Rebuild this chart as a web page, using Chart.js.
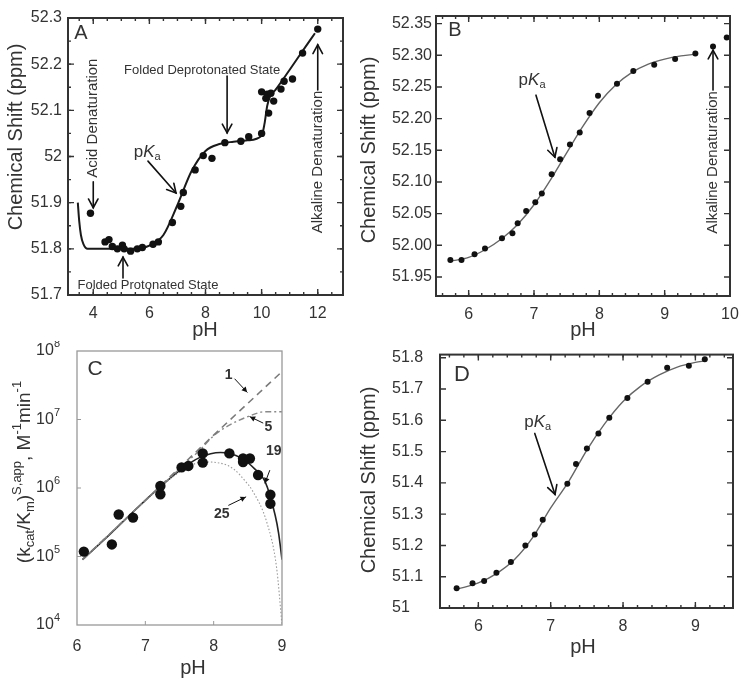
<!DOCTYPE html>
<html>
<head>
<meta charset="utf-8">
<script src="https://cdn.jsdelivr.net/npm/chart.js@4.4.1/dist/chart.umd.min.js"></script>
<style>
  html, body { margin: 0; padding: 0; background: #fff; }
  #fig { position: relative; width: 750px; height: 682px; }
  #fig canvas { position: absolute; }
</style>
</head>
<body>
<div id="fig">
  <canvas id="panelA" width="356" height="341" style="left:0;top:0"></canvas>
  <canvas id="panelB" width="394" height="341" style="left:356px;top:0"></canvas>
  <canvas id="panelC" width="356" height="341" style="left:0;top:341px"></canvas>
  <canvas id="panelD" width="394" height="341" style="left:356px;top:341px"></canvas>
</div>
<script>
// Panel A - chemical shift vs pH, with acid and alkaline denaturation
const aPhObs = [3.9, 4.42, 4.56, 4.68, 4.86, 5.04, 5.1, 5.33, 5.57, 5.75, 6.13, 6.32, 6.82, 7.12, 7.21, 7.63, 7.92, 8.23, 8.69, 9.26, 9.54, 10.0, 10.0, 10.15, 10.2, 10.25, 10.33, 10.43, 10.69, 10.8, 11.1, 11.46, 12.0];
const aShiftObs = [51.877, 51.815, 51.82, 51.805, 51.80, 51.808, 51.80, 51.795, 51.80, 51.803, 51.81, 51.815, 51.857, 51.892, 51.922, 51.971, 52.002, 51.996, 52.03, 52.033, 52.043, 52.05, 52.14, 52.126, 52.135, 52.094, 52.137, 52.12, 52.146, 52.163, 52.168, 52.224, 52.276];
const aPhFit = [3.45, 3.5, 3.56, 3.65, 3.8, 4.5, 5.0, 5.5, 6.0, 6.5, 7.0, 7.5, 8.0, 8.5, 9.0, 9.5, 10.0, 10.1, 10.2, 10.3, 10.5, 11.0, 11.5, 11.9];
const aShiftFit = [51.90, 51.86, 51.83, 51.81, 51.80, 51.80, 51.80, 51.80, 51.807, 51.83, 51.895, 51.968, 52.012, 52.027, 52.032, 52.035, 52.045, 52.07, 52.11, 52.13, 52.145, 52.188, 52.232, 52.267];
const aXTicks = [4, 6, 8, 10, 12];
const aXLabels = ['4', '6', '8', '10', '12'];
const aYTicks = [51.7, 51.8, 51.9, 52.0, 52.1, 52.2, 52.3];
const aYLabels = ['51.7', '51.8', '51.9', '52', '52.1', '52.2', '52.3'];

// Panel B
const bPhObs = [5.72, 5.89, 6.09, 6.25, 6.51, 6.67, 6.75, 6.88, 7.02, 7.12, 7.27, 7.40, 7.55, 7.70, 7.85, 7.98, 8.27, 8.52, 8.84, 9.16, 9.47, 9.74, 9.95];
const bShiftObs = [51.977, 51.977, 51.986, 51.995, 52.011, 52.019, 52.035, 52.054, 52.068, 52.082, 52.112, 52.136, 52.159, 52.178, 52.209, 52.236, 52.255, 52.275, 52.285, 52.294, 52.303, 52.314, 52.328];
const bPhFit = [5.72, 6.0, 6.25, 6.5, 6.75, 7.0, 7.25, 7.5, 7.75, 8.0, 8.25, 8.5, 8.75, 9.0, 9.25, 9.5];
const bShiftFit = [51.975, 51.981, 51.993, 52.010, 52.033, 52.064, 52.103, 52.146, 52.188, 52.225, 52.253, 52.273, 52.286, 52.294, 52.299, 52.302];
const bXTicks = [6, 7, 8, 9, 10];
const bXLabels = ['6', '7', '8', '9', '10'];
const bYTicks = [51.95, 52.00, 52.05, 52.10, 52.15, 52.20, 52.25, 52.30, 52.35];
const bYLabels = ['51.95', '52.00', '52.05', '52.10', '52.15', '52.20', '52.25', '52.30', '52.35'];

// Panel C - (kcat/Km) vs pH, log scale, model curves 1, 5, 19, 25
const cPhObs = [6.10, 6.51, 6.61, 6.82, 7.22, 7.22, 7.53, 7.63, 7.84, 7.84, 8.23, 8.43, 8.43, 8.53, 8.65, 8.83, 8.83];
const cRateObs = [1.18e5, 1.5e5, 4.1e5, 3.7e5, 8.1e5, 1.07e6, 2.0e6, 2.1e6, 2.35e6, 3.2e6, 3.2e6, 2.4e6, 2.7e6, 2.7e6, 1.55e6, 8.0e5, 5.9e5];
const cPhCurve1 = [6.08, 7.0, 8.0, 9.0];
const cRateCurve1 = [9e4, 6.6e5, 5.9e6, 5e7];
const cPhCurve5 = [6.08, 7.0, 7.5, 7.8, 8.0, 8.25, 8.5, 8.75, 9.0];
const cRateCurve5 = [9e4, 6.6e5, 1.9e6, 3.6e6, 5.8e6, 8.5e6, 1.1e7, 1.3e7, 1.3e7];
const cPhCurve19 = [6.08, 6.5, 7.0, 7.5, 7.8, 8.1, 8.4, 8.6, 8.75, 8.9, 8.95, 9.0];
const cRateCurve19 = [9e4, 2.2e5, 6.6e5, 1.8e6, 2.8e6, 3.3e6, 2.75e6, 1.9e6, 1.26e6, 4.0e5, 2.2e5, 9e4];
const cPhCurve25 = [6.08, 7.0, 7.5, 7.85, 8.1, 8.29, 8.48, 8.56, 8.78, 8.92, 9.0];
const cRateCurve25 = [9e4, 6.5e5, 1.7e6, 2.4e6, 2.3e6, 1.9e6, 1.2e6, 9.4e5, 3.1e5, 7e4, 1e4];
const cXTicks = [6, 7, 8, 9];
const cXLabels = ['6', '7', '8', '9'];
const cYTicks = [1e4, 1e5, 1e6, 1e7, 1e8];
const cYExps = ['4', '5', '6', '7', '8'];

// Panel D
const dPhObs = [5.70, 5.92, 6.08, 6.25, 6.45, 6.65, 6.78, 6.89, 7.23, 7.35, 7.50, 7.66, 7.81, 8.06, 8.34, 8.61, 8.91, 9.13];
const dShiftObs = [51.063, 51.079, 51.086, 51.113, 51.147, 51.200, 51.235, 51.282, 51.397, 51.46, 51.51, 51.558, 51.608, 51.671, 51.723, 51.768, 51.774, 51.795];
const dPhFit = [5.7, 6.0, 6.25, 6.5, 6.75, 7.0, 7.25, 7.5, 7.75, 8.0, 8.25, 8.5, 8.75, 9.0, 9.13];
const dShiftFit = [51.06, 51.08, 51.11, 51.155, 51.225, 51.32, 51.405, 51.505, 51.59, 51.66, 51.71, 51.745, 51.77, 51.785, 51.79];
const dXTicks = [6, 7, 8, 9];
const dXLabels = ['6', '7', '8', '9'];
const dYTicks = [51.0, 51.1, 51.2, 51.3, 51.4, 51.5, 51.6, 51.7, 51.8];
const dYLabels = ['51', '51.1', '51.2', '51.3', '51.4', '51.5', '51.6', '51.7', '51.8'];

const FONT = '"Liberation Sans", Arial, Helvetica, sans-serif';
const INK = '#333';

function pts(xs, ys) {
    return xs.map((x, i) => ({ x: x, y: ys[i] }));
}

// draws a sequence of text runs (sub/superscripts, italics) centred or aligned at cx,cy
function richText(ctx, runs, cx, cy, rot, align) {
    ctx.save();
    ctx.translate(cx, cy);
    if (rot) ctx.rotate(rot);
    ctx.textBaseline = 'middle';
    ctx.textAlign = 'left';
    const fontOf = r => (r.style || 'normal') + ' ' + (r.weight || 'normal') + ' ' + r.size + 'px ' + FONT;
    let total = 0;
    runs.forEach(r => { ctx.font = fontOf(r); r._w = ctx.measureText(r.t).width; total += r._w; });
    let x = align === 'right' ? -total : (align === 'left' ? 0 : -total / 2);
    runs.forEach(r => {
        ctx.font = fontOf(r);
        ctx.fillStyle = r.color || INK;
        ctx.fillText(r.t, x, r.dy || 0);
        x += r._w;
    });
    ctx.restore();
}

function arrow(ctx, x1, y1, x2, y2, head, width, filled) {
    const ang = Math.atan2(y2 - y1, x2 - x1);
    const spread = 0.5;
    ctx.save();
    ctx.strokeStyle = '#111';
    ctx.fillStyle = '#111';
    ctx.lineWidth = width;
    ctx.lineCap = 'round';
    ctx.beginPath();
    ctx.moveTo(x1, y1);
    ctx.lineTo(x2, y2);
    ctx.stroke();
    const hx1 = x2 - head * Math.cos(ang - spread), hy1 = y2 - head * Math.sin(ang - spread);
    const hx2 = x2 - head * Math.cos(ang + spread), hy2 = y2 - head * Math.sin(ang + spread);
    ctx.beginPath();
    ctx.moveTo(hx1, hy1);
    ctx.lineTo(x2, y2);
    ctx.lineTo(hx2, hy2);
    if (filled) { ctx.closePath(); ctx.fill(); } else { ctx.stroke(); }
    ctx.restore();
}

function drawFrame(chart, f) {
    const { ctx, chartArea: a, scales } = chart;
    const xs = scales.x, ys = scales.y;
    ctx.save();
    ctx.strokeStyle = f.color;
    ctx.lineWidth = f.width;
    ctx.strokeRect(a.left, a.top, a.right - a.left, a.bottom - a.top);
    ctx.lineWidth = f.tickWidth;
    const sides = f.sides;
    const tickX = (v, len) => {
        const p = xs.getPixelForValue(v);
        if (p < a.left + 2 || p > a.right - 2) return;
        ctx.beginPath();
        if (sides.includes('b')) { ctx.moveTo(p, a.bottom); ctx.lineTo(p, a.bottom - len); }
        if (sides.includes('t')) { ctx.moveTo(p, a.top); ctx.lineTo(p, a.top + len); }
        ctx.stroke();
    };
    const tickY = (v, len) => {
        const p = ys.getPixelForValue(v);
        if (p < a.top + 2 || p > a.bottom - 2) return;
        ctx.beginPath();
        if (sides.includes('l')) { ctx.moveTo(a.left, p); ctx.lineTo(a.left + len, p); }
        if (sides.includes('r')) { ctx.moveTo(a.right, p); ctx.lineTo(a.right - len, p); }
        ctx.stroke();
    };
    f.xMajor.forEach(v => tickX(v, f.majorLen));
    f.yMajor.forEach(v => tickY(v, f.majorLen));
    if (f.xMinorStep) {
        for (let v = Math.ceil(xs.min / f.xMinorStep) * f.xMinorStep; v <= xs.max; v += f.xMinorStep) tickX(v, f.minorLen);
    }
    if (f.yMinorStep) {
        for (let v = Math.ceil(ys.min / f.yMinorStep) * f.yMinorStep; v <= ys.max; v += f.yMinorStep) tickY(v, f.minorLen);
    }
    ctx.restore();
}

function drawNotes(chart, notes) {
    const { ctx, scales: { x, y } } = chart;
    const px = v => x.getPixelForValue(v);
    const py = v => y.getPixelForValue(v);
    notes.forEach(n => {
        if (n.type === 'text') {
            richText(ctx, [{ t: n.text, size: n.size, weight: n.weight }], px(n.x), py(n.y), n.rot || 0);
        } else if (n.type === 'pka') {
            richText(ctx, [{ t: 'p', size: 17 }, { t: 'K', size: 17, style: 'italic' }, { t: 'a', size: 11, dy: 5 }], px(n.x), py(n.y), 0);
        } else if (n.type === 'arrow') {
            arrow(ctx, px(n.x1), py(n.y1), px(n.x2), py(n.y2), n.head || 10, n.width || 1.6, n.filled);
        } else if (n.type === 'rich') {
            richText(ctx, n.runs, n.cx, n.cy, n.rot || 0, n.align);
        }
    });
}

function makePanel(id, cfg) {
    const deco = {
        id: 'deco_' + id,
        afterDraw(chart) {
            drawFrame(chart, cfg.frame);
            drawNotes(chart, cfg.notes);
        }
    };
    const tickFont = { family: FONT, size: 16 };
    return new Chart(document.getElementById(id), {
        type: 'scatter',
        data: { datasets: cfg.datasets },
        options: {
            responsive: false,
            animation: false,
            events: [],
            layout: { padding: cfg.padding },
            plugins: { legend: { display: false }, tooltip: { enabled: false } },
            scales: {
                x: {
                    type: 'linear',
                    min: cfg.xMin, max: cfg.xMax,
                    grid: { display: false, drawTicks: false },
                    border: { display: false },
                    afterBuildTicks: s => { s.ticks = cfg.xTicks.map(v => ({ value: v })); },
                    afterFit: s => { s.height = cfg.xHeight; },
                    ticks: {
                        font: tickFont, color: INK, padding: cfg.xPad, maxRotation: 0, autoSkip: false,
                        callback: (v, i) => cfg.xLabels[i]
                    }
                },
                y: {
                    type: cfg.yType || 'linear',
                    min: cfg.yMin, max: cfg.yMax,
                    grid: { display: false, drawTicks: false },
                    border: { display: false },
                    afterBuildTicks: s => { s.ticks = cfg.yTicks.map(v => ({ value: v })); },
                    afterFit: s => { s.width = cfg.yWidth; },
                    ticks: {
                        display: cfg.yLabels !== null,
                        font: tickFont, color: INK, padding: cfg.yPad, autoSkip: false,
                        crossAlign: cfg.yCross || 'near',
                        callback: (v, i) => cfg.yLabels ? cfg.yLabels[i] : ''
                    }
                }
            }
        },
        plugins: [deco]
    });
}

function dotSet(xs, ys, r) {
    return { data: pts(xs, ys), pointRadius: r, pointBackgroundColor: '#111', pointBorderWidth: 0, showLine: false, clip: false, order: 0 };
}
function lineSet(xs, ys, color, width, dash) {
    return { data: pts(xs, ys), showLine: true, pointRadius: 0, borderColor: color, borderWidth: width,
             borderDash: dash || [], cubicInterpolationMode: 'monotone', order: 1 };
}
const shiftTitle = [{ t: 'Chemical Shift (ppm)', size: 20 }];
const phTitle = [{ t: 'pH', size: 20 }];

// ---- A ----
makePanel('panelA', {
    padding: { left: 0, right: 13, top: 18, bottom: 0 },
    xMin: 3.1, xMax: 12.9, yMin: 51.7, yMax: 52.3,
    xTicks: aXTicks, xLabels: aXLabels, yTicks: aYTicks, yLabels: aYLabels,
    xHeight: 46, yWidth: 68, xPad: 9, yPad: 6,
    datasets: [lineSet(aPhFit, aShiftFit, '#1a1a1a', 2), dotSet(aPhObs, aShiftObs, 3.7)],
    frame: { color: '#333', width: 2, tickWidth: 1.4, sides: 'lrtb', majorLen: 6, minorLen: 3,
             xMajor: aXTicks, yMajor: aYTicks, xMinorStep: 0.5, yMinorStep: 0.05 },
    notes: [
        { type: 'rich', runs: [{ t: 'A', size: 20 }], cx: 81, cy: 33 },
        { type: 'rich', runs: shiftTitle, cx: 16, cy: 137, rot: -Math.PI / 2 },
        { type: 'rich', runs: phTitle, cx: 205, cy: 330 },
        { type: 'text', text: 'Acid Denaturation', size: 15, x: 4.0, y: 52.083, rot: -Math.PI / 2 },
        { type: 'arrow', x1: 4.0, y1: 51.945, x2: 4.0, y2: 51.889 },
        { type: 'text', text: 'Folded Protonated State', size: 13, x: 5.95, y: 51.72 },
        { type: 'arrow', x1: 5.06, y1: 51.737, x2: 5.06, y2: 51.782 },
        { type: 'pka', x: 5.92, y: 52.01 },
        { type: 'arrow', x1: 5.95, y1: 51.99, x2: 6.95, y2: 51.921 },
        { type: 'text', text: 'Folded Deprotonated State', size: 13, x: 7.88, y: 52.187 },
        { type: 'arrow', x1: 8.77, y1: 52.174, x2: 8.77, y2: 52.051 },
        { type: 'text', text: 'Alkaline Denaturation', size: 15, x: 12.0, y: 51.988, rot: -Math.PI / 2 },
        { type: 'arrow', x1: 12.0, y1: 52.144, x2: 12.0, y2: 52.242 }
    ]
});

// ---- B ----
makePanel('panelB', {
    padding: { left: 0, right: 20, top: 16, bottom: 0 },
    xMin: 5.5, xMax: 10, yMin: 51.92, yMax: 52.362,
    xTicks: bXTicks, xLabels: bXLabels, yTicks: bYTicks, yLabels: bYLabels,
    xHeight: 45, yWidth: 80, xPad: 9, yPad: 4,
    datasets: [lineSet(bPhFit, bShiftFit, '#666', 1.4), dotSet(bPhObs, bShiftObs, 3)],
    frame: { color: '#333', width: 2, tickWidth: 1.4, sides: 'lrtb', majorLen: 6, minorLen: 3,
             xMajor: bXTicks, yMajor: bYTicks, xMinorStep: 0.2, yMinorStep: 0 },
    notes: [
        { type: 'rich', runs: [{ t: 'B', size: 20 }], cx: 99, cy: 30 },
        { type: 'rich', runs: shiftTitle, cx: 13, cy: 150, rot: -Math.PI / 2 },
        { type: 'rich', runs: phTitle, cx: 227, cy: 330 },
        { type: 'pka', x: 6.97, y: 52.261 },
        { type: 'arrow', x1: 7.03, y1: 52.237, x2: 7.32, y2: 52.139 },
        { type: 'text', text: 'Alkaline Denaturation', size: 15, x: 9.74, y: 52.131, rot: -Math.PI / 2 },
        { type: 'arrow', x1: 9.74, y1: 52.245, x2: 9.74, y2: 52.308 }
    ]
});

// ---- C ----
const cYTitle = [
    { t: '(k', size: 19 }, { t: 'cat', size: 13, dy: 5 }, { t: '/K', size: 19 }, { t: 'm', size: 13, dy: 5 },
    { t: ')', size: 19 }, { t: 'S,app', size: 13, dy: -8 }, { t: ', M', size: 19 }, { t: '-1', size: 13, dy: -8 },
    { t: 'min', size: 19 }, { t: '-1', size: 13, dy: -8 }
];
const cNotes = [
    { type: 'rich', runs: [{ t: 'C', size: 21 }], cx: 95, cy: 28 },
    { type: 'rich', runs: cYTitle, cx: 25, cy: 131, rot: -Math.PI / 2 },
    { type: 'rich', runs: phTitle, cx: 193, cy: 327 },
    { type: 'text', text: '1', size: 14, weight: 'bold', x: 8.22, y: 4.5e7 },
    { type: 'arrow', x1: 8.31, y1: 3.9e7, x2: 8.49, y2: 2.5e7, head: 6, width: 1, filled: true },
    { type: 'text', text: '5', size: 14, weight: 'bold', x: 8.80, y: 7.8e6 },
    { type: 'arrow', x1: 8.72, y1: 8.9e6, x2: 8.53, y2: 1.1e7, head: 6, width: 1, filled: true },
    { type: 'text', text: '19', size: 14, weight: 'bold', x: 8.88, y: 3.4e6 },
    { type: 'arrow', x1: 8.82, y1: 1.8e6, x2: 8.75, y2: 1.18e6, head: 6, width: 1, filled: true },
    { type: 'text', text: '25', size: 14, weight: 'bold', x: 8.12, y: 4.1e5 },
    { type: 'arrow', x1: 8.22, y1: 5.6e5, x2: 8.47, y2: 7.4e5, head: 6, width: 1, filled: true }
];
cYTicks.forEach((v, i) => {
    cNotes.push({ type: 'rich', runs: [{ t: '10', size: 16 }, { t: cYExps[i], size: 11, dy: -7 }],
                  cx: 60, cy: 351 - 341 + (4 - i) * 68.5, align: 'right' });
});
makePanel('panelC', {
    padding: { left: 0, right: 74, top: 10, bottom: 0 },
    xMin: 6, xMax: 9, yMin: 1e4, yMax: 1e8, yType: 'logarithmic',
    xTicks: cXTicks, xLabels: cXLabels, yTicks: cYTicks, yLabels: null,
    xHeight: 57, yWidth: 77, xPad: 12, yPad: 4,
    datasets: [
        lineSet(cPhCurve1, cRateCurve1, '#7a7a7a', 1.6, [7, 5]),
        lineSet(cPhCurve5, cRateCurve5, '#8a8a8a', 1.4, [6, 3, 2, 3]),
        lineSet(cPhCurve25, cRateCurve25, '#9a9a9a', 1.1, [1.5, 2]),
        lineSet(cPhCurve19, cRateCurve19, '#222', 1.6),
        dotSet(cPhObs, cRateObs, 5.2)
    ],
    frame: { color: '#999', width: 1.3, tickWidth: 1, sides: 'lb', majorLen: 4, minorLen: 0,
             xMajor: cXTicks, yMajor: cYTicks, xMinorStep: 0, yMinorStep: 0 },
    notes: cNotes
});

// ---- D ----
makePanel('panelD', {
    padding: { left: 36, right: 17, top: 11, bottom: 0 },
    xMin: 5.47, xMax: 9.52, yMin: 51.0, yMax: 51.81,
    xTicks: dXTicks, xLabels: dXLabels, yTicks: dYTicks, yLabels: dYLabels,
    xHeight: 74, yWidth: 48, xPad: 9, yPad: 4, yCross: 'far',
    datasets: [lineSet(dPhFit, dShiftFit, '#666', 1.4), dotSet(dPhObs, dShiftObs, 3)],
    frame: { color: '#333', width: 2, tickWidth: 1.4, sides: 'lrtb', majorLen: 6, minorLen: 3,
             xMajor: dXTicks, yMajor: dYTicks, xMinorStep: 0.2, yMinorStep: 0 },
    notes: [
        { type: 'rich', runs: [{ t: 'D', size: 22 }], cx: 106, cy: 34 },
        { type: 'rich', runs: shiftTitle, cx: 13, cy: 139, rot: -Math.PI / 2 },
        { type: 'rich', runs: phTitle, cx: 227, cy: 306 },
        { type: 'pka', x: 6.82, y: 51.595 },
        { type: 'arrow', x1: 6.78, y1: 51.558, x2: 7.06, y2: 51.363 }
    ]
});
</script>
</body>
</html>
